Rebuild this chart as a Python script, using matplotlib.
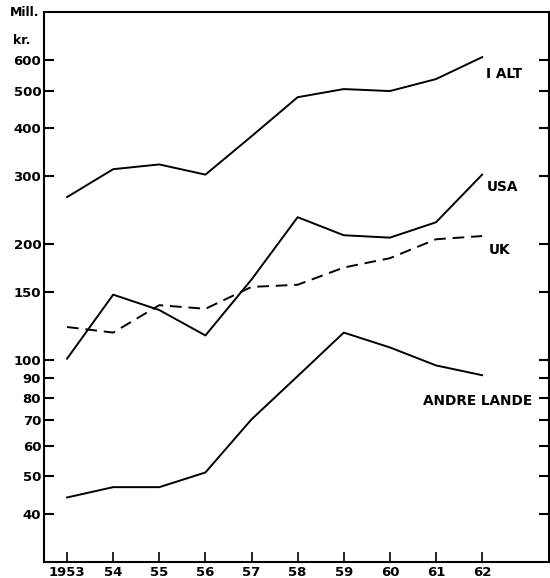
import numpy as np
import matplotlib
matplotlib.use("Agg")
import matplotlib.pyplot as plt
from matplotlib.ticker import FixedLocator, NullLocator

years = [1953, 1954, 1955, 1956, 1957, 1958, 1959, 1960, 1961, 1962]
year_labels = ["1953", "54", "55", "56", "57", "58", "59", "60", "61", "62"]

i_alt = [265, 313, 322, 303, 381, 481, 505, 499, 536, 611]
usa = [101, 148, 135, 116, 162, 235, 211, 208, 228, 303]
uk = [122, 118, 139, 136, 155, 157, 174, 184, 206, 210]
andre = [44.1, 46.9, 46.9, 51.2, 70.3, 91, 118, 108, 97, 91.5]

y_ticks = [40, 50, 60, 70, 80, 90, 100, 150, 200, 300, 400, 500, 600]

plt.rcParams['font.family'] = ['DejaVu Sans']

fig = plt.figure(figsize=(5.5, 5.78), dpi=100)
ax = fig.add_axes([44 / 550, 16 / 578, 505 / 550, 550 / 578])

lw = 1.4
ax.plot(years, i_alt, color="black", lw=lw)
ax.plot(years, usa, color="black", lw=lw)
ax.plot(years, uk, color="black", lw=lw, dashes=(6, 3.5))
ax.plot(years, andre, color="black", lw=lw)

ax.set_yscale("log")
ax.set_ylim(30, 800)
ax.set_xlim(1952.5, 1963.45)

ax.yaxis.set_major_locator(FixedLocator(y_ticks))
ax.yaxis.set_minor_locator(NullLocator())
ax.set_yticklabels([str(v) for v in y_ticks])
ax.set_xticks(years)
ax.set_xticklabels(year_labels)

ax.tick_params(axis="y", which="both", direction="in", length=7, width=1.5,
               left=True, right=True, labelsize=9.5, pad=2)
ax.tick_params(axis="x", direction="in", length=7, width=1.2, top=False,
               labelsize=9.5, pad=3)
for lab in ax.get_xticklabels() + ax.get_yticklabels():
    lab.set_fontweight("bold")

for side in ["left", "bottom", "top", "right"]:
    ax.spines[side].set_linewidth(1.5)

# labels for the series
txt = dict(fontsize=9.8, fontweight="bold", ha="left", va="center")
ax.text(1962.08, 552, "I ALT", **txt)
ax.text(1962.1, 281, "USA", **txt)
ax.text(1962.15, 193, "UK", **txt)
ax.text(1960.72, 78.3, "ANDRE LANDE", **txt)

fig.text(10 / 550, 1 - 12 / 578, "Mill.", fontsize=9, fontweight="bold",
         ha="left", va="center")
fig.text(13 / 550, 1 - 40 / 578, "kr.", fontsize=9, fontweight="bold",
         ha="left", va="center")

fig.savefig("out.png", dpi=100)
